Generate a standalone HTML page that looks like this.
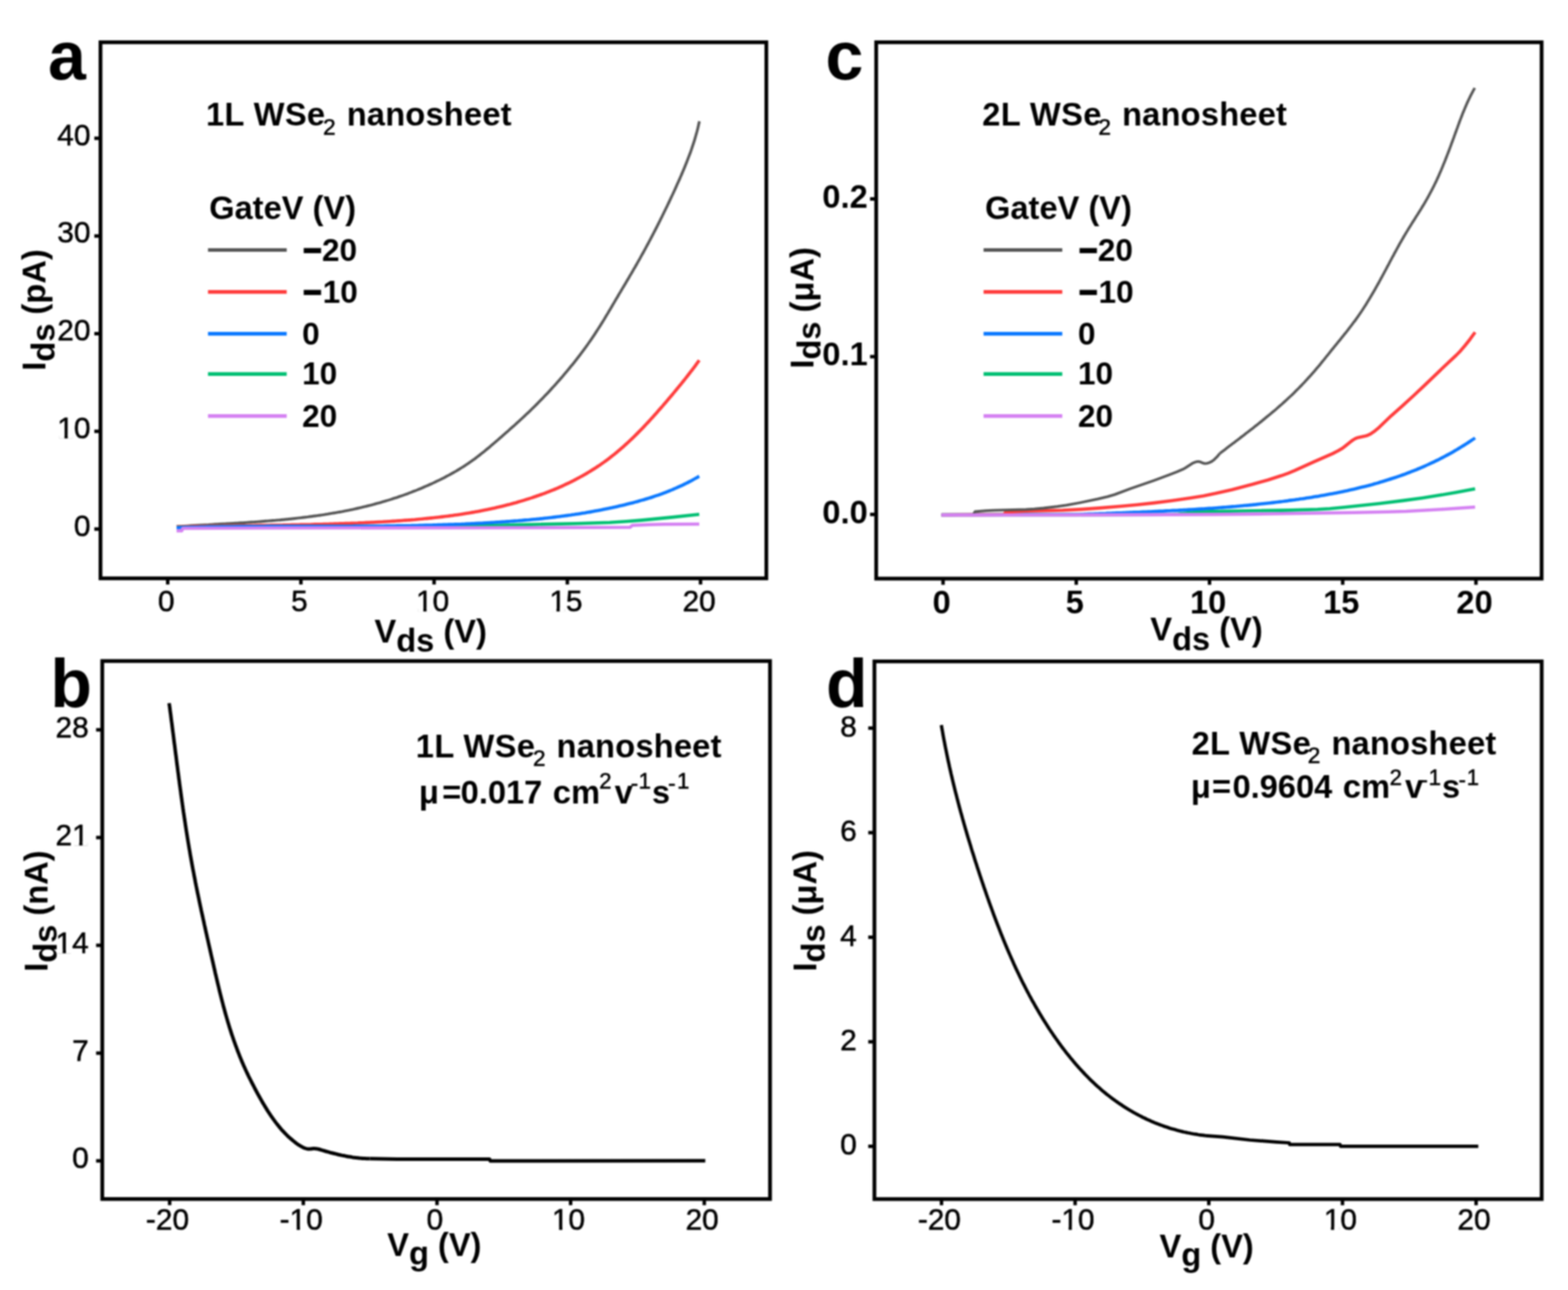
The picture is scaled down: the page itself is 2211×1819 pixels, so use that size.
<!DOCTYPE html>
<html lang="en"><head><meta charset="utf-8"><title>WSe2 nanosheet transistor characteristics</title>
<style>html,body{margin:0;padding:0;background:#fff;overflow:hidden}svg{display:block}#fig{filter:blur(0.8px)}text{font-family:"Liberation Sans", Arial, Helvetica, sans-serif;fill:#000}.b{font-weight:bold}.r{font-weight:normal}.t{stroke:#000;stroke-width:0.7px}</style></head><body>
<div id="fig">
<svg width="2211" height="1819" viewBox="0 0 2211 1819">
<rect x="0" y="0" width="2211" height="1819" fill="#fff"/>
<rect x="141.7" y="59.6" width="938.9" height="755.9" fill="none" stroke="#000" stroke-width="5.3"/>
<line x1="133" y1="746" x2="140" y2="746" stroke="#000" stroke-width="4.9"/>
<line x1="133" y1="608.2" x2="140" y2="608.2" stroke="#000" stroke-width="4.9"/>
<line x1="133" y1="470.5" x2="140" y2="470.5" stroke="#000" stroke-width="4.9"/>
<line x1="133" y1="332.8" x2="140" y2="332.8" stroke="#000" stroke-width="4.9"/>
<line x1="133" y1="195" x2="140" y2="195" stroke="#000" stroke-width="4.9"/>
<line x1="236.5" y1="817.2" x2="236.5" y2="824.2" stroke="#000" stroke-width="4.9"/>
<line x1="424.3" y1="817.2" x2="424.3" y2="824.2" stroke="#000" stroke-width="4.9"/>
<line x1="612.1" y1="817.2" x2="612.1" y2="824.2" stroke="#000" stroke-width="4.9"/>
<line x1="800" y1="817.2" x2="800" y2="824.2" stroke="#000" stroke-width="4.9"/>
<line x1="987.8" y1="817.2" x2="987.8" y2="824.2" stroke="#000" stroke-width="4.9"/>
<text x="127.5" y="755.5" class="r t" font-size="42" text-anchor="end">0</text>
<text x="127.5" y="617.8" class="r t" font-size="42" text-anchor="end">10</text>
<rect x="83.2" y="613.3" width="7.7" height="5.3" fill="#fff"/>
<rect x="95.5" y="613.3" width="7.4" height="5.3" fill="#fff"/>
<text x="127.5" y="480" class="r t" font-size="42" text-anchor="end">20</text>
<text x="127.5" y="342.2" class="r t" font-size="42" text-anchor="end">30</text>
<text x="127.5" y="204.5" class="r t" font-size="42" text-anchor="end">40</text>
<text x="234.5" y="862" class="r t" font-size="42" text-anchor="middle">0</text>
<text x="422.3" y="862" class="r t" font-size="42" text-anchor="middle">5</text>
<text x="610.1" y="862" class="r t" font-size="42" text-anchor="middle">10</text>
<rect x="589.2" y="857.6" width="7.7" height="5.3" fill="#fff"/>
<rect x="601.5" y="857.6" width="7.4" height="5.3" fill="#fff"/>
<text x="798" y="862" class="r t" font-size="42" text-anchor="middle">15</text>
<rect x="777" y="857.6" width="7.7" height="5.3" fill="#fff"/>
<rect x="789.3" y="857.6" width="7.4" height="5.3" fill="#fff"/>
<text x="985.8" y="862" class="r t" font-size="42" text-anchor="middle">20</text>
<text x="67.8" y="112" class="b" font-size="96" text-anchor="start">a</text>
<rect x="144.2" y="932.1" width="941.6" height="758.6" fill="none" stroke="#000" stroke-width="5.3"/>
<line x1="135.5" y1="1636.9" x2="142.5" y2="1636.9" stroke="#000" stroke-width="4.9"/>
<line x1="135.5" y1="1485" x2="142.5" y2="1485" stroke="#000" stroke-width="4.9"/>
<line x1="135.5" y1="1333" x2="142.5" y2="1333" stroke="#000" stroke-width="4.9"/>
<line x1="135.5" y1="1181" x2="142.5" y2="1181" stroke="#000" stroke-width="4.9"/>
<line x1="135.5" y1="1029.1" x2="142.5" y2="1029.1" stroke="#000" stroke-width="4.9"/>
<line x1="239.2" y1="1692.4" x2="239.2" y2="1699.4" stroke="#000" stroke-width="4.9"/>
<line x1="427.7" y1="1692.4" x2="427.7" y2="1699.4" stroke="#000" stroke-width="4.9"/>
<line x1="616.2" y1="1692.4" x2="616.2" y2="1699.4" stroke="#000" stroke-width="4.9"/>
<line x1="804.6" y1="1692.4" x2="804.6" y2="1699.4" stroke="#000" stroke-width="4.9"/>
<line x1="993.1" y1="1692.4" x2="993.1" y2="1699.4" stroke="#000" stroke-width="4.9"/>
<text x="125" y="1647.4" class="r t" font-size="42" text-anchor="end">0</text>
<text x="125" y="1495.5" class="r t" font-size="42" text-anchor="end">7</text>
<text x="125" y="1343.5" class="r t" font-size="42" text-anchor="end">14</text>
<rect x="80.7" y="1339.1" width="7.7" height="5.3" fill="#fff"/>
<rect x="93" y="1339.1" width="7.4" height="5.3" fill="#fff"/>
<text x="125" y="1191.5" class="r t" font-size="42" text-anchor="end">21</text>
<rect x="104" y="1187.1" width="7.7" height="5.3" fill="#fff"/>
<rect x="116.4" y="1187.1" width="7.4" height="5.3" fill="#fff"/>
<text x="125" y="1039.6" class="r t" font-size="42" text-anchor="end">28</text>
<text x="236.2" y="1734.3" class="r t" font-size="42" text-anchor="middle">-20</text>
<text x="424.7" y="1734.3" class="r t" font-size="42" text-anchor="middle">-10</text>
<rect x="410.7" y="1729.9" width="7.7" height="5.3" fill="#fff"/>
<rect x="423" y="1729.9" width="7.4" height="5.3" fill="#fff"/>
<text x="613.2" y="1734.3" class="r t" font-size="42" text-anchor="middle">0</text>
<text x="801.6" y="1734.3" class="r t" font-size="42" text-anchor="middle">10</text>
<rect x="780.7" y="1729.9" width="7.7" height="5.3" fill="#fff"/>
<rect x="793" y="1729.9" width="7.4" height="5.3" fill="#fff"/>
<text x="990.1" y="1734.3" class="r t" font-size="42" text-anchor="middle">20</text>
<text x="71" y="996.5" class="b" font-size="96" text-anchor="start">b</text>
<rect x="1235.5" y="59.6" width="938.3" height="756.3" fill="none" stroke="#000" stroke-width="5.3"/>
<line x1="1226.8" y1="725.4" x2="1233.8" y2="725.4" stroke="#000" stroke-width="4.9"/>
<line x1="1226.8" y1="502.9" x2="1233.8" y2="502.9" stroke="#000" stroke-width="4.9"/>
<line x1="1226.8" y1="280.5" x2="1233.8" y2="280.5" stroke="#000" stroke-width="4.9"/>
<line x1="1329.8" y1="817.6" x2="1329.8" y2="824.6" stroke="#000" stroke-width="4.9"/>
<line x1="1517.6" y1="817.6" x2="1517.6" y2="824.6" stroke="#000" stroke-width="4.9"/>
<line x1="1705.5" y1="817.6" x2="1705.5" y2="824.6" stroke="#000" stroke-width="4.9"/>
<line x1="1893.3" y1="817.6" x2="1893.3" y2="824.6" stroke="#000" stroke-width="4.9"/>
<line x1="2081.2" y1="817.6" x2="2081.2" y2="824.6" stroke="#000" stroke-width="4.9"/>
<text x="1223.5" y="737.9" class="b" font-size="46" text-anchor="end">0.0</text>
<text x="1223.5" y="515.4" class="b" font-size="46" text-anchor="end">0.1</text>
<text x="1223.5" y="293" class="b" font-size="46" text-anchor="end">0.2</text>
<text x="1327.8" y="864.5" class="b" font-size="46" text-anchor="middle">0</text>
<text x="1515.6" y="864.5" class="b" font-size="46" text-anchor="middle">5</text>
<text x="1703.5" y="864.5" class="b" font-size="46" text-anchor="middle">10</text>
<text x="1891.3" y="864.5" class="b" font-size="46" text-anchor="middle">15</text>
<text x="2079.2" y="864.5" class="b" font-size="46" text-anchor="middle">20</text>
<text x="1164" y="111.5" class="b" font-size="96" text-anchor="start">c</text>
<rect x="1233" y="932.6" width="940.9" height="758.2" fill="none" stroke="#000" stroke-width="5.3"/>
<line x1="1224.3" y1="1616.4" x2="1231.3" y2="1616.4" stroke="#000" stroke-width="4.9"/>
<line x1="1224.3" y1="1469" x2="1231.3" y2="1469" stroke="#000" stroke-width="4.9"/>
<line x1="1224.3" y1="1321.6" x2="1231.3" y2="1321.6" stroke="#000" stroke-width="4.9"/>
<line x1="1224.3" y1="1174.1" x2="1231.3" y2="1174.1" stroke="#000" stroke-width="4.9"/>
<line x1="1224.3" y1="1026.7" x2="1231.3" y2="1026.7" stroke="#000" stroke-width="4.9"/>
<line x1="1327.6" y1="1692.5" x2="1327.6" y2="1699.5" stroke="#000" stroke-width="4.9"/>
<line x1="1516" y1="1692.5" x2="1516" y2="1699.5" stroke="#000" stroke-width="4.9"/>
<line x1="1704.5" y1="1692.5" x2="1704.5" y2="1699.5" stroke="#000" stroke-width="4.9"/>
<line x1="1893" y1="1692.5" x2="1893" y2="1699.5" stroke="#000" stroke-width="4.9"/>
<line x1="2081.4" y1="1692.5" x2="2081.4" y2="1699.5" stroke="#000" stroke-width="4.9"/>
<text x="1208.2" y="1628.4" class="r t" font-size="42" text-anchor="end">0</text>
<text x="1208.2" y="1481" class="r t" font-size="42" text-anchor="end">2</text>
<text x="1208.2" y="1333.6" class="r t" font-size="42" text-anchor="end">4</text>
<text x="1208.2" y="1186.1" class="r t" font-size="42" text-anchor="end">6</text>
<text x="1208.2" y="1038.7" class="r t" font-size="42" text-anchor="end">8</text>
<text x="1324.6" y="1734.3" class="r t" font-size="42" text-anchor="middle">-20</text>
<text x="1513" y="1734.3" class="r t" font-size="42" text-anchor="middle">-10</text>
<rect x="1499.1" y="1729.9" width="7.7" height="5.3" fill="#fff"/>
<rect x="1511.4" y="1729.9" width="7.4" height="5.3" fill="#fff"/>
<text x="1701.5" y="1734.3" class="r t" font-size="42" text-anchor="middle">0</text>
<text x="1890" y="1734.3" class="r t" font-size="42" text-anchor="middle">10</text>
<rect x="1869" y="1729.9" width="7.7" height="5.3" fill="#fff"/>
<rect x="1881.3" y="1729.9" width="7.4" height="5.3" fill="#fff"/>
<text x="2078.4" y="1734.3" class="r t" font-size="42" text-anchor="middle">20</text>
<text x="1164.7" y="997" class="b" font-size="96" text-anchor="start">d</text>
<text><tspan x="290.4" y="177.4" class="b" font-size="46" letter-spacing="0.55">1L WSe</tspan><tspan x="455.5" y="190" class="r t" font-size="32">2</tspan><tspan x="488.9" y="177.4" class="b" font-size="46" letter-spacing="0.3">nanosheet</tspan></text>
<text><tspan x="1385" y="177.4" class="b" font-size="46" letter-spacing="0.55">2L WSe</tspan><tspan x="1548.8" y="190" class="r t" font-size="32">2</tspan><tspan x="1582.2" y="177.4" class="b" font-size="46" letter-spacing="0.3">nanosheet</tspan></text>
<text><tspan x="586.3" y="1067.8" class="b" font-size="46" letter-spacing="0.55">1L WSe</tspan><tspan x="751.4" y="1080.4" class="r t" font-size="32">2</tspan><tspan x="784.8" y="1067.8" class="b" font-size="46" letter-spacing="0.3">nanosheet</tspan></text>
<text><tspan x="1680.2" y="1063.6" class="b" font-size="46" letter-spacing="0.55">2L WSe</tspan><tspan x="1844" y="1076.2" class="r t" font-size="32">2</tspan><tspan x="1877.4" y="1063.6" class="b" font-size="46" letter-spacing="0.3">nanosheet</tspan></text>
<text><tspan x="590.8" y="1132.6" class="b" font-size="46">&#956;</tspan><tspan x="623.4" y="1132.6" class="b" font-size="46">=</tspan><tspan x="649.6" y="1132.6" class="b" font-size="46">0.017</tspan><tspan x="779.6" y="1132.6" class="b" font-size="46">cm</tspan><tspan x="845" y="1111.6" class="r t" font-size="31">2</tspan><tspan x="866.8" y="1132.6" class="b" font-size="46">v</tspan><tspan x="889.5" y="1114.6" class="r t" font-size="31">-</tspan><tspan x="900.5" y="1111.6" class="r t" font-size="31">1</tspan><tspan x="919.2" y="1132.6" class="b" font-size="46">s</tspan><tspan x="942.3" y="1114.6" class="r t" font-size="31">-</tspan><tspan x="954.7" y="1111.6" class="r t" font-size="31">1</tspan></text>
<text><tspan x="1679.3" y="1124.8" class="b" font-size="46">&#956;</tspan><tspan x="1708.9" y="1124.8" class="b" font-size="46">=</tspan><tspan x="1737.9" y="1124.8" class="b" font-size="46">0.9604</tspan><tspan x="1893.6" y="1124.8" class="b" font-size="46">cm</tspan><tspan x="1959.5" y="1107.2" class="r t" font-size="31">2</tspan><tspan x="1981.3" y="1124.8" class="b" font-size="46">v</tspan><tspan x="2003" y="1110.2" class="r t" font-size="31">-</tspan><tspan x="2014.4" y="1107.2" class="r t" font-size="31">1</tspan><tspan x="2033.2" y="1124.8" class="b" font-size="46">s</tspan><tspan x="2056.7" y="1110.2" class="r t" font-size="31">-</tspan><tspan x="2068.2" y="1107.2" class="r t" font-size="31">1</tspan></text>
<text x="295" y="308.6" class="b" font-size="46" text-anchor="start">GateV (V)</text>
<line x1="293.3" y1="352.5" x2="404.3" y2="352.5" stroke="#555555" stroke-width="5.2"/>
<text x="426" y="367.5" class="b" font-size="44.5" text-anchor="start"><tspan dx="1.5" stroke="#000" stroke-width="2.2">&#8722;</tspan><tspan dx="0.5">20</tspan></text>
<line x1="293.3" y1="411.6" x2="404.3" y2="411.6" stroke="#ff3b3b" stroke-width="5.2"/>
<text x="426" y="426.6" class="b" font-size="44.5" text-anchor="start"><tspan dx="1.5" stroke="#000" stroke-width="2.2">&#8722;</tspan><tspan dx="1.5">10</tspan></text>
<line x1="293.3" y1="470.7" x2="404.3" y2="470.7" stroke="#0a78ff" stroke-width="5.2"/>
<text x="426" y="485.7" class="b" font-size="44.5" text-anchor="start">0</text>
<line x1="293.3" y1="527.3" x2="404.3" y2="527.3" stroke="#00bf72" stroke-width="5.2"/>
<text x="426" y="542.3" class="b" font-size="44.5" text-anchor="start">10</text>
<line x1="293.3" y1="586.6" x2="404.3" y2="586.6" stroke="#d480f2" stroke-width="5.2"/>
<text x="426" y="601.6" class="b" font-size="44.5" text-anchor="start">20</text>
<text x="1389" y="308.6" class="b" font-size="46" text-anchor="start">GateV (V)</text>
<line x1="1386.9" y1="352.5" x2="1497.9" y2="352.5" stroke="#555555" stroke-width="5.2"/>
<text x="1520" y="367.5" class="b" font-size="44.5" text-anchor="start"><tspan dx="1.5" stroke="#000" stroke-width="2.2">&#8722;</tspan><tspan dx="0.5">20</tspan></text>
<line x1="1386.9" y1="411.6" x2="1497.9" y2="411.6" stroke="#ff3b3b" stroke-width="5.2"/>
<text x="1520" y="426.6" class="b" font-size="44.5" text-anchor="start"><tspan dx="1.5" stroke="#000" stroke-width="2.2">&#8722;</tspan><tspan dx="1.5">10</tspan></text>
<line x1="1386.9" y1="470.7" x2="1497.9" y2="470.7" stroke="#0a78ff" stroke-width="5.2"/>
<text x="1520" y="485.7" class="b" font-size="44.5" text-anchor="start">0</text>
<line x1="1386.9" y1="527.3" x2="1497.9" y2="527.3" stroke="#00bf72" stroke-width="5.2"/>
<text x="1520" y="542.3" class="b" font-size="44.5" text-anchor="start">10</text>
<line x1="1386.9" y1="586.6" x2="1497.9" y2="586.6" stroke="#d480f2" stroke-width="5.2"/>
<text x="1520" y="601.6" class="b" font-size="44.5" text-anchor="start">20</text>
<text transform="translate(64.2,522.7) rotate(-90)" class="b" font-size="46">I<tspan dy="12.5">ds</tspan><tspan dy="-12.5"> (pA)</tspan></text>
<text transform="translate(67,1370.3) rotate(-90)" class="b" font-size="46">I<tspan dy="13">ds</tspan><tspan dy="-13"> (nA)</tspan></text>
<text transform="translate(1147,519.8) rotate(-90)" class="b" font-size="46">I<tspan dy="9.5">ds</tspan><tspan dy="-9.5"> (&#956;A)</tspan></text>
<text transform="translate(1150.7,1370) rotate(-90)" class="b" font-size="46">I<tspan dy="12">ds</tspan><tspan dy="-12"> (&#956;A)</tspan></text>
<text x="528" y="905.5" class="b" font-size="46">V<tspan dy="13.5">ds</tspan><tspan dy="-13.5"> (V)</tspan></text>
<text x="1622" y="903.4" class="b" font-size="46">V<tspan dy="13.5">ds</tspan><tspan dy="-13.5"> (V)</tspan></text>
<text x="546" y="1770.6" class="b" font-size="46">V<tspan dy="12">g</tspan><tspan dy="-12"> (V)</tspan></text>
<text x="1635" y="1772.9" class="b" font-size="46">V<tspan dy="12">g</tspan><tspan dy="-12"> (V)</tspan></text>
<path d="M249,742.5 C249.8,742.4 252.3,742.3 254,742.2 C255.6,742.1 257.3,742 259,741.9 C260.6,741.8 262.3,741.7 264,741.6 C265.6,741.5 267.3,741.4 269,741.3 C270.6,741.2 272.3,741.1 274,741 C275.6,740.9 277.3,740.8 279,740.7 C280.6,740.6 282.3,740.5 284,740.4 C285.6,740.3 287.3,740.2 289,740.1 C290.6,740 292.3,739.9 294,739.9 C295.6,739.8 297.3,739.7 299,739.6 C300.7,739.5 302.3,739.4 304,739.3 C305.7,739.2 307.3,739.1 309,739 C310.7,738.9 312.4,738.8 314,738.7 C315.7,738.6 317.4,738.6 319.1,738.5 C320.7,738.4 322.4,738.3 324.1,738.2 C325.7,738.1 327.4,738 329.1,737.9 C330.8,737.8 332.4,737.7 334.1,737.6 C335.8,737.5 337.5,737.4 339.1,737.3 C340.8,737.2 342.5,737.1 344.1,737 C345.8,736.8 347.5,736.7 349.2,736.6 C350.8,736.5 352.5,736.4 354.2,736.3 C355.9,736.2 357.5,736.1 359.2,736 C360.9,735.8 362.5,735.7 364.2,735.6 C365.9,735.5 367.6,735.4 369.2,735.2 C370.9,735.1 372.6,735 374.3,734.8 C375.9,734.7 377.6,734.6 379.3,734.4 C380.9,734.3 382.6,734.2 384.3,734 C385.9,733.9 387.6,733.8 389.3,733.6 C391,733.5 392.6,733.3 394.3,733.2 C396,733 397.6,732.9 399.3,732.7 C401,732.5 402.6,732.4 404.3,732.2 C406,732 407.6,731.9 409.3,731.7 C411,731.5 412.6,731.4 414.3,731.2 C415.9,731 417.6,730.8 419.3,730.6 C420.9,730.5 422.6,730.3 424.3,730.1 C425.9,729.9 427.6,729.7 429.2,729.5 C430.9,729.3 432.6,729.1 434.2,728.9 C435.9,728.6 437.5,728.4 439.2,728.2 C440.9,728 442.5,727.8 444.2,727.5 C445.8,727.3 447.5,727.1 449.1,726.8 C450.8,726.6 452.4,726.3 454.1,726.1 C455.7,725.9 457.4,725.6 459,725.3 C460.7,725.1 462.3,724.8 464,724.5 C465.6,724.3 467.3,724 468.9,723.7 C470.6,723.4 472.2,723.2 473.9,722.9 C475.5,722.6 477.2,722.3 478.8,722 C480.4,721.7 482.1,721.4 483.7,721.1 C485.4,720.7 487,720.4 488.6,720.1 C490.3,719.8 491.9,719.4 493.5,719.1 C495.2,718.8 496.8,718.4 498.4,718.1 C500.1,717.7 501.7,717.4 503.3,717 C505,716.6 506.6,716.3 508.2,715.9 C509.9,715.5 511.5,715.1 513.1,714.7 C514.7,714.3 516.4,713.9 518,713.5 C519.6,713.1 521.2,712.7 522.8,712.3 C524.5,711.9 526.1,711.5 527.7,711 C529.3,710.6 530.9,710.2 532.5,709.7 C534.1,709.3 535.8,708.8 537.4,708.3 C539,707.9 540.6,707.4 542.2,706.9 C543.8,706.4 545.4,706 547,705.5 C548.6,705 550.2,704.5 551.8,704 C553.4,703.5 555,702.9 556.6,702.4 C558.2,701.9 559.8,701.4 561.4,700.8 C562.9,700.3 564.5,699.7 566.1,699.2 C567.7,698.6 569.3,698.1 570.8,697.5 C572.4,696.9 574,696.3 575.6,695.8 C577.1,695.2 578.7,694.6 580.3,694 C581.8,693.4 583.4,692.8 585,692.2 C586.5,691.5 588.1,690.9 589.6,690.3 C591.2,689.7 592.7,689 594.3,688.4 C595.8,687.7 597.3,687.1 598.9,686.4 C600.4,685.8 601.9,685.1 603.5,684.4 C605,683.7 606.5,683 608,682.4 C609.5,681.7 611,681 612.6,680.3 C614.1,679.5 615.6,678.8 617.1,678.1 C618.6,677.4 620.1,676.7 621.5,675.9 C623,675.2 624.5,674.4 626,673.7 C627.5,672.9 628.9,672.1 630.4,671.3 C631.9,670.6 633.3,669.8 634.8,669 C636.3,668.2 637.7,667.4 639.2,666.5 C640.6,665.7 642,664.9 643.5,664.1 C644.9,663.2 646.3,662.4 647.8,661.5 C649.2,660.6 650.6,659.7 652,658.9 C653.4,658 654.8,657.1 656.2,656.1 C657.6,655.2 659,654.3 660.4,653.4 C661.8,652.4 663.1,651.5 664.5,650.5 C665.9,649.5 667.2,648.5 668.6,647.6 C670,646.6 671.3,645.5 672.6,644.5 C674,643.5 675.3,642.5 676.7,641.4 C678,640.4 679.3,639.4 680.6,638.3 C681.9,637.2 683.3,636.2 684.6,635.1 C685.9,634 687.2,632.9 688.5,631.9 C689.8,630.8 691.1,629.7 692.3,628.6 C693.6,627.5 694.9,626.4 696.2,625.3 C697.5,624.2 698.7,623.1 700,622 C701.3,620.9 702.5,619.8 703.8,618.7 C705.1,617.6 706.3,616.5 707.6,615.4 C708.8,614.3 710.1,613.2 711.3,612.1 C712.5,611 713.8,610 715,608.9 C716.3,607.8 717.5,606.7 718.7,605.6 C720,604.5 721.2,603.4 722.4,602.3 C723.6,601.2 724.9,600.2 726.1,599.1 C727.3,598 728.5,596.9 729.7,595.8 C731,594.7 732.2,593.6 733.4,592.4 C734.6,591.3 735.8,590.2 737,589.1 C738.2,588 739.4,586.8 740.6,585.7 C741.9,584.6 743.1,583.4 744.3,582.3 C745.5,581.1 746.7,580 747.9,578.8 C749.1,577.7 750.2,576.5 751.4,575.3 C752.6,574.2 753.8,573 755,571.8 C756.2,570.6 757.4,569.4 758.6,568.3 C759.7,567.1 760.9,565.9 762.1,564.7 C763.3,563.5 764.4,562.3 765.6,561.1 C766.8,559.9 767.9,558.6 769.1,557.4 C770.3,556.2 771.4,555 772.6,553.8 C773.7,552.5 774.9,551.3 776,550.1 C777.2,548.8 778.3,547.6 779.4,546.3 C780.6,545.1 781.7,543.8 782.9,542.6 C784,541.3 785.1,540.1 786.2,538.8 C787.4,537.5 788.5,536.3 789.6,535 C790.7,533.7 791.8,532.5 792.9,531.2 C794,529.9 795.1,528.6 796.2,527.3 C797.3,526 798.4,524.7 799.5,523.4 C800.5,522.1 801.6,520.8 802.7,519.5 C803.8,518.2 804.8,516.9 805.9,515.6 C807,514.3 808,513 809.1,511.7 C810.1,510.4 811.2,509 812.2,507.7 C813.2,506.4 814.3,505 815.3,503.7 C816.3,502.4 817.4,501 818.4,499.7 C819.4,498.4 820.4,497 821.4,495.7 C822.4,494.3 823.4,493 824.4,491.6 C825.4,490.3 826.4,488.9 827.3,487.6 C828.3,486.2 829.3,484.8 830.2,483.5 C831.2,482.1 832.2,480.7 833.1,479.4 C834,478 835,476.6 835.9,475.2 C836.9,473.9 837.8,472.5 838.7,471.1 C839.6,469.7 840.5,468.3 841.4,466.9 C842.3,465.6 843.2,464.2 844.1,462.8 C845,461.4 845.9,460 846.8,458.6 C847.6,457.2 848.5,455.8 849.4,454.4 C850.3,453 851.1,451.6 852,450.2 C852.8,448.8 853.7,447.4 854.5,445.9 C855.4,444.5 856.2,443.1 857.1,441.7 C857.9,440.3 858.8,438.9 859.6,437.4 C860.5,436 861.3,434.6 862.1,433.2 C863,431.8 863.8,430.3 864.6,428.9 C865.5,427.5 866.3,426.1 867.2,424.6 C868,423.2 868.8,421.8 869.7,420.3 C870.5,418.9 871.4,417.5 872.2,416 C873.1,414.6 873.9,413.1 874.8,411.7 C875.6,410.3 876.5,408.8 877.3,407.4 C878.2,405.9 879,404.5 879.9,403.1 C880.8,401.6 881.6,400.2 882.5,398.7 C883.3,397.3 884.2,395.8 885.1,394.4 C885.9,392.9 886.8,391.5 887.6,390 C888.5,388.6 889.3,387.1 890.2,385.7 C891,384.2 891.9,382.8 892.7,381.3 C893.6,379.8 894.4,378.4 895.3,376.9 C896.1,375.5 896.9,374 897.8,372.6 C898.6,371.1 899.4,369.7 900.2,368.2 C901.1,366.7 901.9,365.3 902.7,363.8 C903.5,362.3 904.3,360.9 905.1,359.4 C906,358 906.8,356.5 907.6,355 C908.4,353.6 909.2,352.1 910,350.6 C910.8,349.2 911.6,347.7 912.4,346.2 C913.2,344.7 913.9,343.3 914.7,341.8 C915.5,340.3 916.3,338.9 917.1,337.4 C917.9,335.9 918.6,334.4 919.4,333 C920.2,331.5 921,330 921.7,328.5 C922.5,327 923.3,325.6 924,324.1 C924.8,322.6 925.6,321.1 926.3,319.6 C927.1,318.1 927.8,316.6 928.6,315.2 C929.3,313.7 930.1,312.2 930.8,310.7 C931.6,309.2 932.3,307.7 933.1,306.2 C933.8,304.7 934.5,303.2 935.3,301.7 C936,300.2 936.7,298.7 937.5,297.2 C938.2,295.7 938.9,294.2 939.7,292.7 C940.4,291.2 941.1,289.7 941.8,288.2 C942.6,286.7 943.3,285.2 944,283.6 C944.7,282.1 945.4,280.6 946.1,279.1 C946.8,277.6 947.5,276.1 948.3,274.5 C949,273 949.7,271.5 950.4,270 C951.1,268.5 951.8,266.9 952.5,265.4 C953.2,263.9 953.9,262.3 954.5,260.8 C955.2,259.3 955.9,257.7 956.6,256.2 C957.3,254.7 958,253.1 958.7,251.6 C959.3,250.1 960,248.5 960.7,247 C961.3,245.4 962,243.9 962.7,242.3 C963.3,240.8 964,239.2 964.6,237.7 C965.3,236.1 965.9,234.6 966.5,233 C967.2,231.5 967.8,229.9 968.4,228.3 C969,226.8 969.6,225.2 970.2,223.6 C970.8,222.1 971.4,220.5 972,218.9 C972.6,217.4 973.2,215.8 973.8,214.2 C974.3,212.6 974.9,211.1 975.4,209.5 C976,207.9 976.5,206.3 977,204.7 C977.6,203.1 978.1,201.5 978.6,199.9 C979.1,198.4 979.6,196.8 980,195.2 C980.5,193.6 981,192 981.4,190.4 C981.9,188.8 982.3,187.2 982.8,185.5 C983.2,183.9 983.6,182.3 984,180.7 C984.4,179.1 984.8,177.5 985.1,175.9 C985.5,174.2 986,171.8 986.2,171" fill="none" stroke="#555555" stroke-width="3.9" stroke-linejoin="round" stroke-linecap="butt"/>
<path d="M249,743 C249.8,743 252.3,742.9 253.9,742.9 C255.6,742.8 257.2,742.8 258.8,742.8 C260.5,742.7 262.1,742.7 263.8,742.6 C265.4,742.6 267.1,742.6 268.7,742.5 C270.4,742.5 272,742.5 273.7,742.4 C275.3,742.4 277,742.3 278.6,742.3 C280.3,742.3 281.9,742.2 283.6,742.2 C285.2,742.2 286.9,742.2 288.5,742.1 C290.2,742.1 291.8,742.1 293.5,742 C295.1,742 296.8,742 298.4,741.9 C300.1,741.9 301.8,741.9 303.4,741.9 C305.1,741.8 306.7,741.8 308.4,741.8 C310.1,741.7 311.7,741.7 313.4,741.7 C315,741.7 316.7,741.6 318.4,741.6 C320,741.6 321.7,741.6 323.4,741.5 C325,741.5 326.7,741.5 328.3,741.5 C330,741.4 331.7,741.4 333.3,741.4 C335,741.4 336.7,741.3 338.3,741.3 C340,741.3 341.7,741.3 343.4,741.2 C345,741.2 346.7,741.2 348.4,741.2 C350,741.1 351.7,741.1 353.4,741.1 C355,741.1 356.7,741 358.4,741 C360.1,741 361.7,741 363.4,740.9 C365.1,740.9 366.7,740.9 368.4,740.9 C370.1,740.8 371.8,740.8 373.4,740.8 C375.1,740.8 376.8,740.7 378.5,740.7 C380.1,740.7 381.8,740.7 383.5,740.6 C385.2,740.6 386.8,740.6 388.5,740.5 C390.2,740.5 391.9,740.5 393.5,740.5 C395.2,740.4 396.9,740.4 398.6,740.4 C400.3,740.3 401.9,740.3 403.6,740.3 C405.3,740.3 407,740.2 408.6,740.2 C410.3,740.2 412,740.1 413.7,740.1 C415.4,740.1 417,740 418.7,740 C420.4,740 422.1,739.9 423.8,739.9 C425.4,739.9 427.1,739.8 428.8,739.8 C430.5,739.8 432.2,739.7 433.8,739.7 C435.5,739.6 437.2,739.6 438.9,739.6 C440.6,739.5 442.2,739.5 443.9,739.4 C445.6,739.4 447.3,739.4 449,739.3 C450.6,739.3 452.3,739.2 454,739.2 C455.7,739.1 457.4,739.1 459,739 C460.7,739 462.4,738.9 464.1,738.9 C465.8,738.8 467.4,738.8 469.1,738.7 C470.8,738.7 472.5,738.6 474.2,738.6 C475.8,738.5 477.5,738.5 479.2,738.4 C480.9,738.4 482.6,738.3 484.2,738.2 C485.9,738.2 487.6,738.1 489.3,738.1 C491,738 492.6,737.9 494.3,737.9 C496,737.8 497.7,737.7 499.3,737.7 C501,737.6 502.7,737.5 504.4,737.5 C506.1,737.4 507.7,737.3 509.4,737.2 C511.1,737.2 512.8,737.1 514.4,737 C516.1,736.9 517.8,736.9 519.5,736.8 C521.1,736.7 522.8,736.6 524.5,736.5 C526.2,736.5 527.8,736.4 529.5,736.3 C531.2,736.2 532.9,736.1 534.5,736 C536.2,735.9 537.9,735.8 539.6,735.8 C541.2,735.7 542.9,735.6 544.6,735.5 C546.2,735.4 547.9,735.3 549.6,735.2 C551.3,735.1 552.9,735 554.6,734.9 C556.3,734.8 557.9,734.6 559.6,734.5 C561.3,734.4 562.9,734.3 564.6,734.2 C566.3,734.1 567.9,734 569.6,733.8 C571.3,733.7 572.9,733.6 574.6,733.5 C576.3,733.3 577.9,733.2 579.6,733.1 C581.3,732.9 582.9,732.8 584.6,732.7 C586.3,732.5 587.9,732.4 589.6,732.2 C591.2,732.1 592.9,731.9 594.6,731.8 C596.2,731.6 597.9,731.5 599.5,731.3 C601.2,731.2 602.8,731 604.5,730.8 C606.2,730.7 607.8,730.5 609.5,730.3 C611.1,730.1 612.8,730 614.4,729.8 C616.1,729.6 617.7,729.4 619.4,729.2 C621,729 622.7,728.8 624.3,728.6 C626,728.4 627.6,728.2 629.3,728 C630.9,727.8 632.6,727.6 634.2,727.4 C635.9,727.2 637.5,726.9 639.2,726.7 C640.8,726.5 642.5,726.2 644.1,726 C645.7,725.8 647.4,725.5 649,725.3 C650.7,725 652.3,724.8 653.9,724.5 C655.6,724.3 657.2,724 658.9,723.7 C660.5,723.5 662.1,723.2 663.8,722.9 C665.4,722.6 667,722.3 668.7,722.1 C670.3,721.8 671.9,721.5 673.6,721.2 C675.2,720.9 676.8,720.6 678.4,720.2 C680.1,719.9 681.7,719.6 683.3,719.3 C685,719 686.6,718.6 688.2,718.3 C689.8,717.9 691.4,717.6 693.1,717.2 C694.7,716.9 696.3,716.5 697.9,716.2 C699.5,715.8 701.2,715.4 702.8,715.1 C704.4,714.7 706,714.3 707.6,713.9 C709.2,713.5 710.8,713.1 712.5,712.7 C714.1,712.3 715.7,711.9 717.3,711.5 C718.9,711.1 720.5,710.6 722.1,710.2 C723.7,709.8 725.3,709.3 726.9,708.9 C728.5,708.4 730.1,708 731.7,707.5 C733.3,707.1 734.9,706.6 736.5,706.1 C738.1,705.6 739.7,705.1 741.3,704.6 C742.9,704.2 744.5,703.7 746.1,703.1 C747.6,702.6 749.2,702.1 750.8,701.6 C752.4,701.1 754,700.5 755.6,700 C757.1,699.4 758.7,698.9 760.3,698.3 C761.9,697.8 763.4,697.2 765,696.6 C766.6,696.1 768.1,695.5 769.7,694.9 C771.2,694.3 772.8,693.7 774.4,693.1 C775.9,692.5 777.5,691.8 779,691.2 C780.5,690.6 782.1,690 783.6,689.3 C785.2,688.7 786.7,688 788.2,687.3 C789.7,686.7 791.3,686 792.8,685.3 C794.3,684.6 795.8,683.9 797.3,683.2 C798.8,682.5 800.3,681.8 801.8,681.1 C803.3,680.4 804.8,679.6 806.3,678.9 C807.8,678.2 809.2,677.4 810.7,676.6 C812.2,675.9 813.7,675.1 815.1,674.3 C816.6,673.5 818,672.8 819.5,671.9 C820.9,671.1 822.4,670.3 823.8,669.5 C825.3,668.7 826.7,667.9 828.1,667 C829.5,666.2 831,665.3 832.4,664.4 C833.8,663.6 835.2,662.7 836.6,661.8 C838,660.9 839.4,660 840.8,659.1 C842.2,658.2 843.5,657.3 844.9,656.4 C846.3,655.4 847.7,654.5 849,653.5 C850.4,652.6 851.7,651.6 853.1,650.6 C854.4,649.7 855.8,648.7 857.1,647.7 C858.4,646.7 859.8,645.7 861.1,644.6 C862.4,643.6 863.7,642.6 865,641.5 C866.3,640.5 867.6,639.4 868.9,638.4 C870.2,637.3 871.5,636.2 872.8,635.1 C874.1,634 875.3,632.9 876.6,631.8 C877.9,630.7 879.1,629.6 880.4,628.5 C881.7,627.4 882.9,626.2 884.2,625.1 C885.4,624 886.6,622.8 887.9,621.6 C889.1,620.5 890.3,619.3 891.5,618.2 C892.8,617 894,615.8 895.2,614.6 C896.4,613.4 897.6,612.2 898.8,611 C900,609.8 901.2,608.6 902.4,607.4 C903.6,606.2 904.7,605 905.9,603.8 C907.1,602.6 908.3,601.3 909.4,600.1 C910.6,598.9 911.7,597.6 912.9,596.4 C914.1,595.2 915.2,593.9 916.3,592.7 C917.5,591.4 918.6,590.2 919.8,588.9 C920.9,587.7 922,586.4 923.2,585.2 C924.3,583.9 925.4,582.7 926.5,581.4 C927.6,580.1 928.7,578.9 929.8,577.6 C931,576.3 932.1,575.1 933.2,573.8 C934.3,572.6 935.3,571.3 936.4,570 C937.5,568.8 938.6,567.5 939.7,566.2 C940.8,565 941.9,563.7 942.9,562.4 C944,561.2 945.1,559.9 946.1,558.6 C947.2,557.4 948.3,556.1 949.3,554.8 C950.4,553.6 951.4,552.3 952.5,551 C953.5,549.8 954.6,548.5 955.6,547.2 C956.7,546 957.7,544.7 958.7,543.4 C959.8,542.1 960.8,540.9 961.8,539.6 C962.9,538.3 963.9,537 964.9,535.8 C965.9,534.5 967,533.2 968,531.9 C969,530.6 970,529.3 971,528 C972,526.7 973,525.4 974,524.1 C975.1,522.8 976.1,521.4 977.1,520.1 C978.1,518.8 979.1,517.5 980.1,516.1 C981.1,514.8 982,513.4 983,512.1 C984,510.7 985.5,508.7 986,508" fill="none" stroke="#ff3b3b" stroke-width="4.6" stroke-linejoin="round" stroke-linecap="butt"/>
<path d="M249,744 L280.8,743.3 L308.8,743 L617.2,742.9 L650.2,742.3 L729,740.1 L812,738.2 L859.8,736.7 L883,735.3 L904,733.6 L947.5,729.4 L986,725.3" fill="none" stroke="#00bf72" stroke-width="4.6" stroke-linejoin="round" stroke-linecap="butt"/>
<path d="M249,744 C249.8,744 252.3,743.9 253.9,743.9 C255.6,743.8 257.2,743.8 258.9,743.7 C260.5,743.7 262.2,743.6 263.8,743.6 C265.5,743.5 267.1,743.5 268.8,743.5 C270.4,743.4 272.1,743.4 273.7,743.3 C275.4,743.3 277,743.3 278.7,743.2 C280.3,743.2 282,743.2 283.6,743.1 C285.3,743.1 286.9,743.1 288.6,743 C290.2,743 291.9,743 293.5,742.9 C295.2,742.9 296.9,742.9 298.5,742.8 C300.2,742.8 301.8,742.8 303.5,742.8 C305.1,742.7 306.8,742.7 308.5,742.7 C310.1,742.7 311.8,742.7 313.4,742.6 C315.1,742.6 316.7,742.6 318.4,742.6 C320.1,742.5 321.7,742.5 323.4,742.5 C325.1,742.5 326.7,742.5 328.4,742.5 C330,742.4 331.7,742.4 333.4,742.4 C335,742.4 336.7,742.4 338.4,742.4 C340,742.3 341.7,742.3 343.4,742.3 C345,742.3 346.7,742.3 348.4,742.3 C350,742.3 351.7,742.3 353.4,742.3 C355,742.2 356.7,742.2 358.4,742.2 C360,742.2 361.7,742.2 363.4,742.2 C365,742.2 366.7,742.2 368.4,742.2 C370,742.2 371.7,742.2 373.4,742.2 C375,742.2 376.7,742.1 378.4,742.1 C380.1,742.1 381.7,742.1 383.4,742.1 C385.1,742.1 386.7,742.1 388.4,742.1 C390.1,742.1 391.8,742.1 393.4,742.1 C395.1,742.1 396.8,742.1 398.5,742.1 C400.1,742.1 401.8,742.1 403.5,742.1 C405.2,742.1 406.8,742.1 408.5,742.1 C410.2,742.1 411.9,742.1 413.5,742.1 C415.2,742.1 416.9,742.1 418.6,742.1 C420.2,742.1 421.9,742.1 423.6,742.1 C425.3,742.1 426.9,742.1 428.6,742.1 C430.3,742.1 432,742.1 433.6,742.1 C435.3,742.1 437,742.1 438.7,742.1 C440.4,742.1 442,742.1 443.7,742.1 C445.4,742.1 447.1,742.1 448.8,742.1 C450.4,742.1 452.1,742.1 453.8,742 C455.5,742 457.1,742 458.8,742 C460.5,742 462.2,742 463.9,742 C465.5,742 467.2,742 468.9,742 C470.6,742 472.3,742 474,742 C475.6,742 477.3,742 479,742 C480.7,742 482.4,742 484,742 C485.7,742 487.4,742 489.1,742 C490.8,742 492.4,742 494.1,742 C495.8,742 497.5,741.9 499.2,741.9 C500.9,741.9 502.5,741.9 504.2,741.9 C505.9,741.9 507.6,741.9 509.3,741.9 C510.9,741.9 512.6,741.9 514.3,741.9 C516,741.8 517.7,741.8 519.4,741.8 C521,741.8 522.7,741.8 524.4,741.8 C526.1,741.8 527.8,741.8 529.4,741.7 C531.1,741.7 532.8,741.7 534.5,741.7 C536.2,741.7 537.9,741.7 539.5,741.7 C541.2,741.6 542.9,741.6 544.6,741.6 C546.3,741.6 548,741.6 549.6,741.5 C551.3,741.5 553,741.5 554.7,741.5 C556.4,741.5 558,741.4 559.7,741.4 C561.4,741.4 563.1,741.4 564.8,741.3 C566.5,741.3 568.1,741.3 569.8,741.2 C571.5,741.2 573.2,741.2 574.9,741.2 C576.5,741.1 578.2,741.1 579.9,741.1 C581.6,741 583.3,741 585,741 C586.6,740.9 588.3,740.9 590,740.9 C591.7,740.8 593.4,740.8 595,740.7 C596.7,740.7 598.4,740.7 600.1,740.6 C601.8,740.6 603.4,740.5 605.1,740.5 C606.8,740.5 608.5,740.4 610.2,740.4 C611.8,740.3 613.5,740.3 615.2,740.2 C616.9,740.2 618.6,740.1 620.2,740.1 C621.9,740 623.6,740 625.3,739.9 C626.9,739.9 628.6,739.8 630.3,739.7 C632,739.7 633.7,739.6 635.3,739.6 C637,739.5 638.7,739.4 640.4,739.4 C642,739.3 643.7,739.2 645.4,739.2 C647.1,739.1 648.8,739 650.4,739 C652.1,738.9 653.8,738.8 655.5,738.8 C657.1,738.7 658.8,738.6 660.5,738.5 C662.2,738.5 663.8,738.4 665.5,738.3 C667.2,738.2 668.9,738.2 670.5,738.1 C672.2,738 673.9,737.9 675.5,737.8 C677.2,737.7 678.9,737.6 680.6,737.6 C682.2,737.5 683.9,737.4 685.6,737.3 C687.2,737.2 688.9,737.1 690.6,737 C692.3,736.9 693.9,736.8 695.6,736.7 C697.3,736.6 698.9,736.5 700.6,736.4 C702.3,736.3 703.9,736.2 705.6,736.1 C707.3,736 709,735.8 710.6,735.7 C712.3,735.6 714,735.5 715.6,735.4 C717.3,735.3 719,735.1 720.6,735 C722.3,734.9 723.9,734.8 725.6,734.6 C727.3,734.5 728.9,734.4 730.6,734.3 C732.3,734.1 733.9,734 735.6,733.9 C737.3,733.7 738.9,733.6 740.6,733.4 C742.2,733.3 743.9,733.1 745.6,733 C747.2,732.8 748.9,732.7 750.5,732.5 C752.2,732.4 753.8,732.2 755.5,732.1 C757.2,731.9 758.8,731.7 760.5,731.6 C762.1,731.4 763.8,731.2 765.4,731.1 C767.1,730.9 768.7,730.7 770.4,730.5 C772,730.3 773.7,730.2 775.4,730 C777,729.8 778.7,729.6 780.3,729.4 C781.9,729.2 783.6,729 785.2,728.8 C786.9,728.6 788.5,728.4 790.2,728.2 C791.8,728 793.5,727.7 795.1,727.5 C796.8,727.3 798.4,727.1 800,726.9 C801.7,726.6 803.3,726.4 805,726.2 C806.6,725.9 808.2,725.7 809.9,725.5 C811.5,725.2 813.2,725 814.8,724.7 C816.4,724.5 818.1,724.2 819.7,723.9 C821.3,723.7 823,723.4 824.6,723.2 C826.2,722.9 827.9,722.6 829.5,722.3 C831.1,722.1 832.7,721.8 834.4,721.5 C836,721.2 837.6,720.9 839.2,720.6 C840.9,720.3 842.5,720 844.1,719.7 C845.7,719.4 847.3,719.1 849,718.8 C850.6,718.4 852.2,718.1 853.8,717.8 C855.4,717.5 857.1,717.1 858.7,716.8 C860.3,716.5 861.9,716.1 863.5,715.8 C865.1,715.4 866.7,715.1 868.3,714.7 C869.9,714.3 871.6,714 873.2,713.6 C874.8,713.2 876.4,712.9 878,712.5 C879.6,712.1 881.2,711.7 882.8,711.3 C884.4,710.9 886,710.5 887.6,710.1 C889.2,709.7 890.8,709.3 892.4,708.9 C894,708.5 895.6,708.1 897.1,707.6 C898.7,707.2 900.3,706.7 901.9,706.3 C903.5,705.9 905.1,705.4 906.7,704.9 C908.3,704.5 909.8,704 911.4,703.5 C913,703 914.6,702.6 916.2,702.1 C917.7,701.6 919.3,701 920.9,700.5 C922.5,700 924,699.5 925.6,698.9 C927.2,698.4 928.8,697.9 930.3,697.3 C931.9,696.7 933.5,696.2 935,695.6 C936.6,695 938.2,694.4 939.7,693.8 C941.3,693.2 942.8,692.6 944.4,692 C946,691.3 947.5,690.7 949.1,690 C950.6,689.4 952.2,688.7 953.7,688 C955.3,687.3 956.8,686.6 958.4,685.9 C959.9,685.2 961.5,684.5 963,683.8 C964.5,683 966.1,682.3 967.6,681.5 C969.2,680.7 970.7,679.9 972.2,679.1 C973.8,678.3 975.3,677.5 976.8,676.7 C978.4,675.9 979.9,675 981.4,674.1 C983,673.3 985.2,671.9 986,671.5" fill="none" stroke="#0a78ff" stroke-width="4.6" stroke-linejoin="round" stroke-linecap="butt"/>
<path d="M249,748.5 L256,748.5 L256.5,748 L257.5,745.5 L258,745 L370,744.5 L775,744 L888,743.5 L889,743.1 L891,741.3 L891.8,740.8 L898.8,740.5 L917,739.8 L936.8,739.3 L986,739" fill="none" stroke="#d480f2" stroke-width="4.6" stroke-linejoin="round" stroke-linecap="butt"/>
<path d="M1327.6,726 L1509.3,725.9 L1650.8,725.6 L1661.1,724.9 L1683.8,722.2 L1694.3,721.6 L1733.3,720.7 L1820.8,719.4 L1857.8,718.3 L1875.1,717.2 L1895.8,715.3 L1945.3,710 L1978.3,705.9 L2005.3,702.2 L2028.3,698.6 L2053.6,694.2 L2080,689.2" fill="none" stroke="#00bf72" stroke-width="4.6" stroke-linejoin="round" stroke-linecap="butt"/>
<path d="M1327.6,726 L1520,725.5" fill="none" stroke="#0a78ff" stroke-width="4.6" stroke-linejoin="round" stroke-linecap="butt"/>
<path d="M1520,725.5 C1520.8,725.5 1523.2,725.4 1524.9,725.3 C1526.5,725.2 1528.1,725.2 1529.7,725.1 C1531.4,725 1533,725 1534.6,724.9 C1536.3,724.9 1537.9,724.8 1539.5,724.7 C1541.2,724.7 1542.8,724.6 1544.4,724.5 C1546.1,724.5 1547.7,724.4 1549.4,724.4 C1551,724.3 1552.6,724.2 1554.3,724.2 C1555.9,724.1 1557.6,724 1559.2,724 C1560.9,723.9 1562.5,723.9 1564.2,723.8 C1565.8,723.7 1567.5,723.7 1569.1,723.6 C1570.8,723.5 1572.4,723.5 1574.1,723.4 C1575.7,723.3 1577.4,723.3 1579.1,723.2 C1580.7,723.2 1582.4,723.1 1584,723 C1585.7,723 1587.4,722.9 1589,722.8 C1590.7,722.8 1592.3,722.7 1594,722.6 C1595.7,722.6 1597.3,722.5 1599,722.4 C1600.7,722.4 1602.3,722.3 1604,722.2 C1605.7,722.2 1607.3,722.1 1609,722 C1610.7,721.9 1612.4,721.9 1614,721.8 C1615.7,721.7 1617.4,721.7 1619.1,721.6 C1620.7,721.5 1622.4,721.4 1624.1,721.4 C1625.8,721.3 1627.4,721.2 1629.1,721.1 C1630.8,721.1 1632.5,721 1634.1,720.9 C1635.8,720.8 1637.5,720.7 1639.2,720.7 C1640.9,720.6 1642.6,720.5 1644.2,720.4 C1645.9,720.3 1647.6,720.3 1649.3,720.2 C1651,720.1 1652.6,720 1654.3,719.9 C1656,719.8 1657.7,719.7 1659.4,719.7 C1661.1,719.6 1662.8,719.5 1664.4,719.4 C1666.1,719.3 1667.8,719.2 1669.5,719.1 C1671.2,719 1672.9,718.9 1674.6,718.8 C1676.3,718.7 1677.9,718.6 1679.6,718.5 C1681.3,718.4 1683,718.3 1684.7,718.2 C1686.4,718.1 1688.1,718 1689.8,717.9 C1691.5,717.8 1693.2,717.7 1694.8,717.6 C1696.5,717.5 1698.2,717.4 1699.9,717.2 C1701.6,717.1 1703.3,717 1705,716.9 C1706.7,716.8 1708.4,716.7 1710.1,716.6 C1711.7,716.4 1713.4,716.3 1715.1,716.2 C1716.8,716.1 1718.5,715.9 1720.2,715.8 C1721.9,715.7 1723.6,715.6 1725.3,715.4 C1727,715.3 1728.7,715.2 1730.3,715 C1732,714.9 1733.7,714.8 1735.4,714.6 C1737.1,714.5 1738.8,714.3 1740.5,714.2 C1742.2,714 1743.9,713.9 1745.6,713.7 C1747.2,713.6 1748.9,713.5 1750.6,713.3 C1752.3,713.1 1754,713 1755.7,712.8 C1757.4,712.7 1759.1,712.5 1760.7,712.4 C1762.4,712.2 1764.1,712 1765.8,711.9 C1767.5,711.7 1769.2,711.5 1770.9,711.4 C1772.5,711.2 1774.2,711 1775.9,710.8 C1777.6,710.7 1779.3,710.5 1781,710.3 C1782.6,710.1 1784.3,709.9 1786,709.7 C1787.7,709.6 1789.4,709.4 1791,709.2 C1792.7,709 1794.4,708.8 1796.1,708.6 C1797.8,708.4 1799.4,708.2 1801.1,708 C1802.8,707.8 1804.5,707.6 1806.1,707.4 C1807.8,707.1 1809.5,706.9 1811.2,706.7 C1812.8,706.5 1814.5,706.3 1816.2,706.1 C1817.9,705.8 1819.5,705.6 1821.2,705.4 C1822.9,705.2 1824.5,704.9 1826.2,704.7 C1827.9,704.5 1829.5,704.2 1831.2,704 C1832.9,703.7 1834.5,703.5 1836.2,703.3 C1837.9,703 1839.5,702.8 1841.2,702.5 C1842.9,702.2 1844.5,702 1846.2,701.7 C1847.8,701.5 1849.5,701.2 1851.1,700.9 C1852.8,700.7 1854.5,700.4 1856.1,700.1 C1857.8,699.9 1859.4,699.6 1861.1,699.3 C1862.7,699 1864.4,698.7 1866,698.4 C1867.7,698.1 1869.3,697.8 1871,697.5 C1872.6,697.2 1874.2,696.9 1875.9,696.6 C1877.5,696.3 1879.2,696 1880.8,695.7 C1882.4,695.4 1884.1,695.1 1885.7,694.7 C1887.4,694.4 1889,694.1 1890.6,693.7 C1892.3,693.4 1893.9,693.1 1895.5,692.7 C1897.1,692.4 1898.8,692 1900.4,691.7 C1902,691.3 1903.7,690.9 1905.3,690.6 C1906.9,690.2 1908.5,689.8 1910.1,689.5 C1911.8,689.1 1913.4,688.7 1915,688.3 C1916.6,687.9 1918.2,687.5 1919.8,687.1 C1921.4,686.7 1923.1,686.3 1924.7,685.9 C1926.3,685.5 1927.9,685.1 1929.5,684.7 C1931.1,684.2 1932.7,683.8 1934.3,683.4 C1935.9,682.9 1937.5,682.5 1939.1,682 C1940.7,681.6 1942.3,681.1 1943.9,680.7 C1945.4,680.2 1947,679.7 1948.6,679.3 C1950.2,678.8 1951.8,678.3 1953.4,677.8 C1955,677.3 1956.5,676.8 1958.1,676.3 C1959.7,675.8 1961.3,675.3 1962.8,674.8 C1964.4,674.3 1966,673.8 1967.6,673.3 C1969.1,672.7 1970.7,672.2 1972.3,671.6 C1973.8,671.1 1975.4,670.5 1976.9,670 C1978.5,669.4 1980.1,668.9 1981.6,668.3 C1983.2,667.7 1984.7,667.1 1986.3,666.5 C1987.8,665.9 1989.4,665.3 1990.9,664.7 C1992.4,664.1 1994,663.5 1995.5,662.9 C1997.1,662.3 1998.6,661.6 2000.1,661 C2001.7,660.4 2003.2,659.7 2004.7,659.1 C2006.2,658.4 2007.8,657.7 2009.3,657.1 C2010.8,656.4 2012.3,655.7 2013.9,655 C2015.4,654.3 2016.9,653.6 2018.4,652.9 C2019.9,652.2 2021.4,651.5 2022.9,650.8 C2024.4,650 2025.9,649.3 2027.4,648.6 C2028.9,647.8 2030.4,647.1 2031.9,646.3 C2033.4,645.5 2034.9,644.8 2036.4,644 C2037.9,643.2 2039.3,642.4 2040.8,641.6 C2042.3,640.8 2043.8,640 2045.3,639.2 C2046.7,638.3 2048.2,637.5 2049.7,636.7 C2051.1,635.8 2052.6,635 2054.1,634.1 C2055.5,633.3 2057,632.4 2058.4,631.5 C2059.9,630.6 2061.3,629.7 2062.8,628.8 C2064.2,627.9 2065.7,627 2067.1,626.1 C2068.6,625.2 2070,624.2 2071.4,623.3 C2072.9,622.4 2074.3,621.4 2075.7,620.4 C2077.2,619.5 2079.3,618 2080,617.5" fill="none" stroke="#0a78ff" stroke-width="4.6" stroke-linejoin="round" stroke-linecap="butt"/>
<path d="M1327.6,726 L1378.1,725.9 L1415.1,725.6 L1415.8,725.2 L1417.6,723.1 L1418.3,722.5 L1426.6,721.7 L1446.8,720.6 L1498.3,719.5 L1525.6,718.1 L1550.3,716.4 L1581.8,713.8 L1603.6,711.7 L1627.6,709.1 L1652.3,706 L1678.3,702.3 L1697.1,699.2 L1713.8,695.8 L1737.3,690.4 L1766.6,682.8 L1788.1,676.7 L1806.6,670.8 L1816.3,667.3 L1825.3,663.7 L1852.3,651.3 L1879.1,639.6 L1886.6,635.8 L1891.8,632.8 L1895.8,629.9 L1905.6,622 L1908.3,620.1 L1910.8,618.6 L1913.1,617.6 L1915.3,616.9 L1924.3,615.1 L1928.1,614 L1932.6,611.9 L1937.3,608.7 L1944.6,602.7 L1961.8,586.2 L1977.3,572.5 L1993.3,557.9 L2008.6,543.5 L2036.6,516.6 L2053.3,501 L2059.6,494.6 L2065.8,487.3 L2072.6,478.7 L2080,468.5" fill="none" stroke="#ff3b3b" stroke-width="4.6" stroke-linejoin="round" stroke-linecap="butt"/>
<path d="M1327.6,726.3 L1352.6,726.2 L1371.8,725.8 L1372.6,725.4 L1374.1,722.5 L1374.8,721.5 L1381.3,720.8 L1390.6,720.1 L1401.1,719.6 L1446.8,718.4 L1458.6,717.7 L1471.6,716.5 L1491.1,714.2 L1503.6,712.4 L1522.1,709 L1547.8,703.7 L1561.6,700.4 L1571.8,697.4 L1594.1,689 L1626.6,677.7 L1648.1,669.8 L1659.1,665.5 L1667.8,661.8 L1671.3,659.8 L1680.6,653.8 L1683.3,652.4 L1685.6,651.5 L1688.3,650.9 L1690.6,650.9 L1692.3,651.3 L1696.8,653.2 L1698.8,653.6 L1701.8,653.4 L1704.8,652.5 L1708.6,650.7 L1712.3,647.9 L1716.1,644.2 L1720,639.4" fill="none" stroke="#555555" stroke-width="3.8" stroke-linejoin="round" stroke-linecap="butt"/>
<path d="M1720,639.4 C1720.7,638.9 1722.6,637.4 1723.9,636.4 C1725.3,635.4 1726.6,634.4 1727.9,633.4 C1729.2,632.4 1730.6,631.3 1731.9,630.3 C1733.2,629.3 1734.5,628.3 1735.9,627.3 C1737.2,626.3 1738.5,625.3 1739.9,624.3 C1741.2,623.3 1742.5,622.2 1743.9,621.2 C1745.2,620.2 1746.5,619.2 1747.9,618.2 C1749.2,617.1 1750.5,616.1 1751.9,615.1 C1753.2,614.1 1754.6,613.1 1755.9,612 C1757.2,611 1758.6,610 1759.9,608.9 C1761.2,607.9 1762.6,606.9 1763.9,605.8 C1765.2,604.8 1766.6,603.8 1767.9,602.7 C1769.2,601.7 1770.5,600.6 1771.9,599.6 C1773.2,598.5 1774.5,597.5 1775.8,596.4 C1777.2,595.4 1778.5,594.3 1779.8,593.2 C1781.1,592.2 1782.4,591.1 1783.7,590 C1785,589 1786.3,587.9 1787.6,586.8 C1788.9,585.8 1790.2,584.7 1791.5,583.6 C1792.8,582.5 1794.1,581.4 1795.4,580.3 C1796.7,579.2 1798,578.2 1799.3,577.1 C1800.6,576 1801.8,574.9 1803.1,573.7 C1804.4,572.6 1805.6,571.5 1806.9,570.4 C1808.1,569.3 1809.4,568.2 1810.7,567 C1811.9,565.9 1813.1,564.8 1814.4,563.6 C1815.6,562.5 1816.8,561.4 1818.1,560.2 C1819.3,559.1 1820.5,557.9 1821.7,556.8 C1822.9,555.6 1824.1,554.4 1825.3,553.3 C1826.5,552.1 1827.7,550.9 1828.9,549.7 C1830.1,548.6 1831.3,547.4 1832.4,546.2 C1833.6,545 1834.8,543.8 1835.9,542.6 C1837.1,541.4 1838.2,540.2 1839.4,539 C1840.5,537.8 1841.6,536.6 1842.7,535.3 C1843.9,534.1 1845,532.9 1846.1,531.6 C1847.2,530.4 1848.3,529.2 1849.4,527.9 C1850.5,526.7 1851.6,525.5 1852.7,524.2 C1853.8,523 1854.8,521.7 1855.9,520.4 C1857,519.2 1858,517.9 1859.1,516.7 C1860.1,515.4 1861.2,514.1 1862.2,512.9 C1863.3,511.6 1864.3,510.3 1865.3,509 C1866.4,507.8 1867.4,506.5 1868.5,505.2 C1869.5,503.9 1870.5,502.6 1871.6,501.3 C1872.6,500 1873.6,498.7 1874.7,497.4 C1875.7,496.1 1876.8,494.8 1877.8,493.5 C1878.9,492.2 1880,490.9 1881,489.6 C1882.1,488.3 1883.1,487 1884.2,485.7 C1885.3,484.4 1886.4,483.1 1887.4,481.7 C1888.5,480.4 1889.6,479.1 1890.6,477.8 C1891.7,476.5 1892.8,475.1 1893.9,473.8 C1894.9,472.5 1896,471.1 1897.1,469.8 C1898.1,468.5 1899.2,467.1 1900.2,465.8 C1901.3,464.4 1902.3,463.1 1903.4,461.7 C1904.4,460.4 1905.5,459 1906.5,457.7 C1907.5,456.3 1908.5,454.9 1909.6,453.6 C1910.6,452.2 1911.6,450.8 1912.6,449.5 C1913.5,448.1 1914.5,446.7 1915.5,445.3 C1916.5,443.9 1917.4,442.6 1918.4,441.2 C1919.3,439.8 1920.2,438.4 1921.2,437 C1922.1,435.6 1923,434.2 1923.9,432.8 C1924.8,431.4 1925.7,430 1926.6,428.6 C1927.5,427.1 1928.3,425.7 1929.2,424.3 C1930.1,422.9 1930.9,421.5 1931.8,420 C1932.7,418.6 1933.5,417.2 1934.3,415.8 C1935.2,414.3 1936,412.9 1936.8,411.5 C1937.7,410 1938.5,408.6 1939.3,407.2 C1940.1,405.7 1940.9,404.3 1941.7,402.8 C1942.6,401.4 1943.4,400 1944.2,398.5 C1945,397.1 1945.7,395.6 1946.5,394.2 C1947.3,392.7 1948.1,391.3 1948.9,389.8 C1949.7,388.3 1950.5,386.9 1951.3,385.4 C1952,384 1952.8,382.5 1953.6,381.1 C1954.4,379.6 1955.2,378.2 1955.9,376.7 C1956.7,375.2 1957.5,373.8 1958.3,372.3 C1959,370.9 1959.8,369.4 1960.6,367.9 C1961.4,366.5 1962.2,365 1962.9,363.5 C1963.7,362.1 1964.5,360.6 1965.3,359.2 C1966.1,357.7 1966.9,356.2 1967.7,354.8 C1968.5,353.3 1969.3,351.8 1970.1,350.4 C1970.9,348.9 1971.7,347.5 1972.5,346 C1973.3,344.5 1974.1,343.1 1975,341.6 C1975.8,340.2 1976.6,338.7 1977.5,337.3 C1978.3,335.8 1979.1,334.3 1980,332.9 C1980.8,331.4 1981.7,330 1982.6,328.5 C1983.5,327.1 1984.3,325.6 1985.2,324.2 C1986.1,322.7 1987,321.3 1987.9,319.8 C1988.8,318.4 1989.7,316.9 1990.6,315.5 C1991.5,314.1 1992.4,312.6 1993.4,311.2 C1994.3,309.7 1995.2,308.3 1996.1,306.8 C1997,305.4 1997.9,303.9 1998.9,302.5 C1999.8,301 2000.7,299.6 2001.6,298.1 C2002.5,296.7 2003.4,295.2 2004.3,293.8 C2005.2,292.3 2006.1,290.8 2007,289.4 C2007.8,287.9 2008.7,286.5 2009.6,285 C2010.4,283.5 2011.3,282 2012.1,280.6 C2013,279.1 2013.8,277.6 2014.6,276.1 C2015.4,274.7 2016.2,273.2 2017,271.7 C2017.8,270.2 2018.6,268.7 2019.4,267.2 C2020.1,265.7 2020.9,264.2 2021.7,262.7 C2022.4,261.2 2023.1,259.7 2023.9,258.2 C2024.6,256.7 2025.3,255.2 2026,253.7 C2026.7,252.1 2027.4,250.6 2028.1,249.1 C2028.8,247.6 2029.4,246.1 2030.1,244.5 C2030.8,243 2031.4,241.5 2032.1,240 C2032.8,238.4 2033.4,236.9 2034,235.4 C2034.7,233.8 2035.3,232.3 2035.9,230.7 C2036.6,229.2 2037.2,227.7 2037.8,226.1 C2038.4,224.6 2039,223 2039.6,221.5 C2040.2,219.9 2040.8,218.4 2041.4,216.9 C2042,215.3 2042.6,213.8 2043.2,212.2 C2043.8,210.7 2044.3,209.1 2044.9,207.6 C2045.5,206 2046.1,204.4 2046.6,202.9 C2047.2,201.3 2047.8,199.8 2048.4,198.2 C2048.9,196.7 2049.5,195.1 2050.1,193.6 C2050.6,192 2051.2,190.4 2051.8,188.9 C2052.3,187.3 2052.9,185.8 2053.5,184.2 C2054,182.7 2054.6,181.1 2055.2,179.6 C2055.7,178 2056.3,176.4 2056.9,174.9 C2057.4,173.3 2058,171.8 2058.6,170.2 C2059.2,168.7 2059.8,167.1 2060.4,165.6 C2061,164 2061.6,162.5 2062.2,160.9 C2062.8,159.4 2063.5,157.8 2064.1,156.3 C2064.7,154.7 2065.4,153.2 2066,151.6 C2066.7,150.1 2067.4,148.5 2068,147 C2068.7,145.4 2069.4,143.9 2070.1,142.4 C2070.8,140.8 2071.6,139.3 2072.3,137.8 C2073.1,136.2 2073.8,134.7 2074.6,133.2 C2075.4,131.6 2076.2,130.1 2077,128.6 C2077.8,127 2079.1,124.8 2079.5,124" fill="none" stroke="#555555" stroke-width="3.8" stroke-linejoin="round" stroke-linecap="butt"/>
<path d="M1327.4,726.3 L1516.9,726.1 L1710.2,725.4 L1761.2,724.9 L1910.9,722.7 L1956.7,721.8 L1982.7,721 L2036.4,718 L2080,715" fill="none" stroke="#d480f2" stroke-width="4.6" stroke-linejoin="round" stroke-linecap="butt"/>
<path d="M238.5,991.5 C238.6,992.3 238.9,994.8 239.2,996.4 C239.4,998 239.6,999.7 239.8,1001.3 C240,1002.9 240.2,1004.6 240.5,1006.2 C240.7,1007.8 240.9,1009.5 241.1,1011.1 C241.3,1012.8 241.5,1014.4 241.7,1016 C241.9,1017.7 242.2,1019.3 242.4,1021 C242.6,1022.6 242.8,1024.2 243,1025.9 C243.2,1027.5 243.4,1029.2 243.6,1030.8 C243.8,1032.4 244.1,1034.1 244.3,1035.7 C244.5,1037.4 244.7,1039 244.9,1040.7 C245.1,1042.3 245.3,1044 245.5,1045.6 C245.7,1047.3 245.9,1048.9 246.2,1050.5 C246.4,1052.2 246.6,1053.8 246.8,1055.5 C247,1057.1 247.2,1058.8 247.4,1060.4 C247.6,1062.1 247.8,1063.7 248.1,1065.4 C248.3,1067 248.5,1068.7 248.7,1070.3 C248.9,1072 249.1,1073.6 249.3,1075.3 C249.5,1076.9 249.7,1078.6 250,1080.3 C250.2,1081.9 250.4,1083.6 250.6,1085.2 C250.8,1086.9 251,1088.5 251.3,1090.2 C251.5,1091.8 251.7,1093.5 251.9,1095.1 C252.1,1096.8 252.3,1098.5 252.6,1100.1 C252.8,1101.8 253,1103.4 253.2,1105.1 C253.4,1106.7 253.7,1108.4 253.9,1110 C254.1,1111.7 254.3,1113.4 254.6,1115 C254.8,1116.7 255,1118.3 255.2,1120 C255.5,1121.6 255.7,1123.3 255.9,1125 C256.2,1126.6 256.4,1128.3 256.6,1129.9 C256.9,1131.6 257.1,1133.3 257.3,1134.9 C257.6,1136.6 257.8,1138.2 258,1139.9 C258.3,1141.5 258.5,1143.2 258.7,1144.9 C259,1146.5 259.2,1148.2 259.5,1149.8 C259.7,1151.5 260,1153.2 260.2,1154.8 C260.5,1156.5 260.7,1158.1 261,1159.8 C261.2,1161.4 261.5,1163.1 261.7,1164.8 C262,1166.4 262.2,1168.1 262.5,1169.7 C262.7,1171.4 263,1173.1 263.3,1174.7 C263.5,1176.4 263.8,1178 264.1,1179.7 C264.3,1181.4 264.6,1183 264.9,1184.7 C265.1,1186.3 265.4,1188 265.7,1189.6 C266,1191.3 266.2,1193 266.5,1194.6 C266.8,1196.3 267.1,1197.9 267.4,1199.6 C267.7,1201.2 267.9,1202.9 268.2,1204.6 C268.5,1206.2 268.8,1207.9 269.1,1209.5 C269.4,1211.2 269.7,1212.8 270,1214.5 C270.3,1216.2 270.6,1217.8 270.9,1219.5 C271.2,1221.1 271.5,1222.8 271.8,1224.4 C272.1,1226.1 272.4,1227.7 272.8,1229.4 C273.1,1231 273.4,1232.7 273.7,1234.3 C274,1236 274.4,1237.7 274.7,1239.3 C275,1241 275.3,1242.6 275.6,1244.3 C276,1245.9 276.3,1247.6 276.6,1249.2 C277,1250.9 277.3,1252.5 277.6,1254.2 C278,1255.8 278.3,1257.5 278.6,1259.1 C279,1260.8 279.3,1262.4 279.7,1264.1 C280,1265.7 280.4,1267.3 280.7,1269 C281,1270.6 281.4,1272.3 281.7,1273.9 C282.1,1275.6 282.4,1277.2 282.8,1278.9 C283.1,1280.5 283.5,1282.2 283.8,1283.8 C284.2,1285.4 284.5,1287.1 284.9,1288.7 C285.3,1290.4 285.6,1292 286,1293.6 C286.3,1295.3 286.7,1296.9 287.1,1298.6 C287.4,1300.2 287.8,1301.8 288.1,1303.5 C288.5,1305.1 288.9,1306.7 289.2,1308.4 C289.6,1310 289.9,1311.7 290.3,1313.3 C290.7,1314.9 291,1316.6 291.4,1318.2 C291.8,1319.8 292.1,1321.5 292.5,1323.1 C292.9,1324.7 293.2,1326.3 293.6,1328 C294,1329.6 294.3,1331.2 294.7,1332.9 C295.1,1334.5 295.4,1336.1 295.8,1337.7 C296.2,1339.4 296.5,1341 296.9,1342.6 C297.3,1344.2 297.6,1345.9 298,1347.5 C298.4,1349.1 298.8,1350.7 299.1,1352.4 C299.5,1354 299.9,1355.6 300.2,1357.2 C300.6,1358.8 301,1360.4 301.3,1362.1 C301.7,1363.7 302.1,1365.3 302.4,1366.9 C302.8,1368.5 303.2,1370.1 303.5,1371.8 C303.9,1373.4 304.3,1375 304.7,1376.6 C305,1378.2 305.4,1379.8 305.8,1381.4 C306.2,1383 306.5,1384.6 306.9,1386.2 C307.3,1387.8 307.7,1389.4 308.1,1391 C308.5,1392.6 308.9,1394.3 309.2,1395.9 C309.6,1397.5 310,1399.1 310.4,1400.7 C310.8,1402.2 311.2,1403.8 311.6,1405.4 C312,1407 312.4,1408.6 312.8,1410.2 C313.2,1411.8 313.7,1413.4 314.1,1415 C314.5,1416.6 314.9,1418.2 315.3,1419.8 C315.8,1421.4 316.2,1422.9 316.6,1424.5 C317.1,1426.1 317.5,1427.7 317.9,1429.3 C318.4,1430.9 318.8,1432.5 319.3,1434 C319.7,1435.6 320.2,1437.2 320.7,1438.8 C321.1,1440.3 321.6,1441.9 322.1,1443.5 C322.6,1445.1 323,1446.6 323.5,1448.2 C324,1449.8 324.5,1451.4 325,1452.9 C325.5,1454.5 326,1456.1 326.5,1457.6 C327,1459.2 327.6,1460.8 328.1,1462.3 C328.6,1463.9 329.2,1465.4 329.7,1467 C330.2,1468.6 330.8,1470.1 331.4,1471.7 C331.9,1473.2 332.5,1474.8 333.1,1476.3 C333.6,1477.9 334.2,1479.4 334.8,1481 C335.4,1482.5 336,1484.1 336.6,1485.6 C337.2,1487.2 337.8,1488.7 338.4,1490.3 C339.1,1491.8 339.7,1493.4 340.3,1494.9 C341,1496.4 341.6,1498 342.3,1499.5 C343,1501.1 343.6,1502.6 344.3,1504.1 C345,1505.7 345.7,1507.2 346.4,1508.7 C347.1,1510.2 347.8,1511.8 348.5,1513.3 C349.3,1514.8 350,1516.4 350.7,1517.9 C351.5,1519.4 352.2,1520.9 353,1522.4 C353.8,1523.9 354.5,1525.5 355.3,1527 C356.1,1528.5 356.9,1530 357.7,1531.5 C358.4,1533 359.2,1534.5 360,1536 C360.8,1537.5 361.6,1539 362.4,1540.5 C363.2,1542 364,1543.4 364.8,1544.9 C365.7,1546.4 366.5,1547.9 367.3,1549.3 C368.1,1550.8 369,1552.2 369.8,1553.7 C370.6,1555.2 371.5,1556.6 372.4,1558 C373.2,1559.5 374.1,1560.9 375,1562.3 C375.8,1563.8 376.7,1565.2 377.6,1566.6 C378.5,1568 379.4,1569.4 380.4,1570.8 C381.3,1572.2 382.2,1573.6 383.2,1574.9 C384.1,1576.3 385.1,1577.7 386.1,1579 C387,1580.4 388,1581.7 389,1583 C390.1,1584.3 391.1,1585.7 392.1,1586.9 C393.2,1588.2 394.2,1589.5 395.3,1590.8 C396.4,1592 397.4,1593.3 398.6,1594.5 C399.7,1595.7 400.8,1596.9 401.9,1598.1 C403.1,1599.3 404.3,1600.4 405.4,1601.6 C406.6,1602.7 407.8,1603.8 409.1,1604.9 C410.3,1606 411.5,1607.1 412.8,1608.1 C414.1,1609.2 415.4,1610.2 416.7,1611.2 C418,1612.2 419.3,1613.1 420.7,1614.1 C422.1,1615 423.5,1615.9 424.9,1616.7 C426.3,1617.5 427.7,1618.3 429.2,1618.8 C430.6,1619.4 432.1,1619.8 433.6,1620.1 C435.1,1620.3 436.6,1620.2 438.1,1620.1 C439.7,1620 441.2,1619.4 442.8,1619.4 C444.3,1619.4 445.9,1619.6 447.5,1620 C449.1,1620.3 450.7,1620.9 452.3,1621.3 C453.9,1621.8 455.5,1622.3 457.1,1622.7 C458.8,1623.2 460.4,1623.7 462.1,1624.1 C463.7,1624.6 465.4,1625 467,1625.5 C468.7,1625.9 470.4,1626.3 472,1626.7 C473.7,1627.2 475.4,1627.6 477,1628 C478.7,1628.3 480.4,1628.7 482.1,1629.1 C483.7,1629.4 485.4,1629.8 487.1,1630.1 C488.8,1630.5 490.5,1630.8 492.1,1631.1 C493.8,1631.3 495.5,1631.6 497.1,1631.9 C498.8,1632.1 500.4,1632.3 502.1,1632.6 C503.7,1632.8 505.4,1632.9 507,1633.1 C508.6,1633.2 510.3,1633.4 511.9,1633.5 C513.5,1633.6 515.1,1633.6 516.7,1633.7 C518.3,1633.7 520.6,1633.7 521.4,1633.7" fill="none" stroke="#000" stroke-width="5" stroke-linejoin="round" stroke-linecap="butt"/>
<path d="M521.4,1633.7 L560,1634.4 L690.3,1634.4 L691.4,1637 L994.5,1636.8" fill="none" stroke="#000" stroke-width="5" stroke-linejoin="round" stroke-linecap="butt"/>
<path d="M1327.4,1022.4 C1327.5,1023.2 1327.9,1025.6 1328.2,1027.3 C1328.5,1028.9 1328.8,1030.5 1329.1,1032.1 C1329.4,1033.8 1329.6,1035.4 1329.9,1037 C1330.2,1038.6 1330.5,1040.3 1330.8,1041.9 C1331.1,1043.5 1331.4,1045.1 1331.8,1046.8 C1332.1,1048.4 1332.4,1050 1332.7,1051.6 C1333,1053.3 1333.3,1054.9 1333.7,1056.5 C1334,1058.1 1334.3,1059.8 1334.7,1061.4 C1335,1063 1335.3,1064.7 1335.7,1066.3 C1336,1067.9 1336.3,1069.5 1336.7,1071.2 C1337,1072.8 1337.4,1074.4 1337.8,1076.1 C1338.1,1077.7 1338.5,1079.3 1338.8,1081 C1339.2,1082.6 1339.6,1084.2 1339.9,1085.9 C1340.3,1087.5 1340.7,1089.1 1341,1090.7 C1341.4,1092.4 1341.8,1094 1342.2,1095.6 C1342.6,1097.3 1342.9,1098.9 1343.3,1100.5 C1343.7,1102.2 1344.1,1103.8 1344.5,1105.4 C1344.9,1107.1 1345.3,1108.7 1345.7,1110.3 C1346.1,1112 1346.5,1113.6 1346.9,1115.2 C1347.3,1116.9 1347.7,1118.5 1348.2,1120.1 C1348.6,1121.7 1349,1123.4 1349.4,1125 C1349.8,1126.6 1350.3,1128.3 1350.7,1129.9 C1351.1,1131.5 1351.5,1133.2 1352,1134.8 C1352.4,1136.4 1352.8,1138.1 1353.3,1139.7 C1353.7,1141.3 1354.2,1142.9 1354.6,1144.6 C1355.1,1146.2 1355.5,1147.8 1356,1149.5 C1356.4,1151.1 1356.9,1152.7 1357.3,1154.3 C1357.8,1156 1358.2,1157.6 1358.7,1159.2 C1359.1,1160.8 1359.6,1162.5 1360.1,1164.1 C1360.5,1165.7 1361,1167.3 1361.5,1169 C1362,1170.6 1362.4,1172.2 1362.9,1173.8 C1363.4,1175.5 1363.9,1177.1 1364.3,1178.7 C1364.8,1180.3 1365.3,1182 1365.8,1183.6 C1366.3,1185.2 1366.8,1186.8 1367.3,1188.4 C1367.8,1190.1 1368.3,1191.7 1368.8,1193.3 C1369.2,1194.9 1369.7,1196.5 1370.2,1198.1 C1370.7,1199.8 1371.3,1201.4 1371.8,1203 C1372.3,1204.6 1372.8,1206.2 1373.3,1207.8 C1373.8,1209.4 1374.3,1211.1 1374.8,1212.7 C1375.3,1214.3 1375.8,1215.9 1376.4,1217.5 C1376.9,1219.1 1377.4,1220.7 1377.9,1222.3 C1378.5,1223.9 1379,1225.5 1379.5,1227.1 C1380,1228.7 1380.6,1230.4 1381.1,1232 C1381.6,1233.6 1382.2,1235.2 1382.7,1236.8 C1383.2,1238.4 1383.8,1240 1384.3,1241.6 C1384.8,1243.2 1385.4,1244.8 1385.9,1246.4 C1386.5,1248 1387,1249.6 1387.5,1251.1 C1388.1,1252.7 1388.6,1254.3 1389.2,1255.9 C1389.7,1257.5 1390.3,1259.1 1390.8,1260.7 C1391.4,1262.3 1392,1263.9 1392.5,1265.5 C1393.1,1267 1393.6,1268.6 1394.2,1270.2 C1394.7,1271.8 1395.3,1273.4 1395.9,1275 C1396.4,1276.5 1397,1278.1 1397.6,1279.7 C1398.2,1281.3 1398.7,1282.9 1399.3,1284.4 C1399.9,1286 1400.5,1287.6 1401,1289.2 C1401.6,1290.7 1402.2,1292.3 1402.8,1293.9 C1403.4,1295.4 1404,1297 1404.6,1298.6 C1405.2,1300.1 1405.8,1301.7 1406.4,1303.3 C1407,1304.8 1407.6,1306.4 1408.2,1307.9 C1408.8,1309.5 1409.4,1311.1 1410,1312.6 C1410.6,1314.2 1411.2,1315.7 1411.8,1317.3 C1412.5,1318.8 1413.1,1320.4 1413.7,1321.9 C1414.3,1323.5 1415,1325 1415.6,1326.6 C1416.2,1328.1 1416.9,1329.6 1417.5,1331.2 C1418.1,1332.7 1418.8,1334.3 1419.4,1335.8 C1420.1,1337.3 1420.7,1338.9 1421.4,1340.4 C1422,1341.9 1422.7,1343.5 1423.4,1345 C1424,1346.5 1424.7,1348.1 1425.4,1349.6 C1426,1351.1 1426.7,1352.6 1427.4,1354.1 C1428.1,1355.7 1428.8,1357.2 1429.4,1358.7 C1430.1,1360.2 1430.8,1361.7 1431.5,1363.2 C1432.2,1364.8 1432.9,1366.3 1433.6,1367.8 C1434.3,1369.3 1435,1370.8 1435.8,1372.3 C1436.5,1373.8 1437.2,1375.3 1437.9,1376.8 C1438.7,1378.3 1439.4,1379.8 1440.1,1381.3 C1440.9,1382.8 1441.6,1384.3 1442.3,1385.8 C1443.1,1387.2 1443.8,1388.7 1444.6,1390.2 C1445.4,1391.7 1446.1,1393.2 1446.9,1394.7 C1447.6,1396.1 1448.4,1397.6 1449.2,1399.1 C1450,1400.6 1450.8,1402 1451.5,1403.5 C1452.3,1405 1453.1,1406.4 1453.9,1407.9 C1454.7,1409.4 1455.5,1410.8 1456.3,1412.3 C1457.2,1413.7 1458,1415.2 1458.8,1416.6 C1459.6,1418.1 1460.5,1419.6 1461.3,1421 C1462.1,1422.4 1463,1423.9 1463.8,1425.3 C1464.7,1426.8 1465.5,1428.2 1466.4,1429.7 C1467.2,1431.1 1468.1,1432.5 1469,1434 C1469.8,1435.4 1470.7,1436.8 1471.6,1438.2 C1472.5,1439.7 1473.4,1441.1 1474.3,1442.5 C1475.2,1443.9 1476.1,1445.3 1477,1446.8 C1477.9,1448.2 1478.8,1449.6 1479.7,1451 C1480.7,1452.4 1481.6,1453.8 1482.5,1455.2 C1483.5,1456.6 1484.4,1458 1485.4,1459.4 C1486.3,1460.8 1487.3,1462.1 1488.2,1463.5 C1489.2,1464.9 1490.2,1466.3 1491.2,1467.7 C1492.1,1469 1493.1,1470.4 1494.1,1471.8 C1495.1,1473.1 1496.1,1474.5 1497.1,1475.8 C1498.1,1477.2 1499.1,1478.5 1500.2,1479.9 C1501.2,1481.2 1502.2,1482.5 1503.2,1483.9 C1504.3,1485.2 1505.3,1486.5 1506.4,1487.8 C1507.4,1489.1 1508.5,1490.4 1509.5,1491.7 C1510.6,1493 1511.7,1494.3 1512.8,1495.6 C1513.8,1496.9 1514.9,1498.2 1516,1499.4 C1517.1,1500.7 1518.2,1502 1519.3,1503.2 C1520.4,1504.5 1521.5,1505.7 1522.7,1507 C1523.8,1508.2 1524.9,1509.5 1526.1,1510.7 C1527.2,1511.9 1528.4,1513.1 1529.5,1514.3 C1530.7,1515.5 1531.8,1516.7 1533,1517.9 C1534.2,1519.1 1535.4,1520.3 1536.5,1521.5 C1537.7,1522.6 1538.9,1523.8 1540.1,1524.9 C1541.3,1526.1 1542.5,1527.2 1543.8,1528.4 C1545,1529.5 1546.2,1530.6 1547.4,1531.7 C1548.7,1532.8 1549.9,1533.9 1551.2,1535 C1552.4,1536.1 1553.7,1537.2 1554.9,1538.3 C1556.2,1539.3 1557.5,1540.4 1558.8,1541.4 C1560,1542.5 1561.3,1543.5 1562.6,1544.5 C1563.9,1545.6 1565.2,1546.6 1566.6,1547.6 C1567.9,1548.6 1569.2,1549.6 1570.5,1550.5 C1571.9,1551.5 1573.2,1552.5 1574.6,1553.4 C1575.9,1554.4 1577.3,1555.3 1578.6,1556.3 C1580,1557.2 1581.4,1558.1 1582.7,1559 C1584.1,1559.9 1585.5,1560.8 1586.9,1561.7 C1588.3,1562.6 1589.7,1563.4 1591.1,1564.3 C1592.5,1565.1 1593.9,1566 1595.4,1566.8 C1596.8,1567.6 1598.2,1568.5 1599.7,1569.3 C1601.1,1570.1 1602.6,1570.9 1604,1571.6 C1605.5,1572.4 1606.9,1573.2 1608.4,1573.9 C1609.9,1574.7 1611.4,1575.4 1612.9,1576.2 C1614.3,1576.9 1615.8,1577.6 1617.3,1578.3 C1618.8,1579 1620.4,1579.7 1621.9,1580.3 C1623.4,1581 1624.9,1581.7 1626.4,1582.3 C1628,1583 1629.5,1583.6 1631.1,1584.2 C1632.6,1584.8 1634.2,1585.4 1635.7,1586 C1637.3,1586.6 1638.8,1587.2 1640.4,1587.7 C1642,1588.3 1643.6,1588.8 1645.2,1589.3 C1646.7,1589.9 1648.3,1590.4 1649.9,1590.9 C1651.5,1591.4 1653.2,1591.9 1654.8,1592.3 C1656.4,1592.8 1658,1593.3 1659.6,1593.7 C1661.3,1594.1 1662.9,1594.6 1664.5,1595 C1666.2,1595.4 1667.8,1595.8 1669.5,1596.2 C1671.2,1596.5 1672.8,1596.9 1674.5,1597.3 C1676.2,1597.6 1677.8,1597.9 1679.5,1598.3 C1681.2,1598.6 1682.9,1598.9 1684.6,1599.2 C1686.3,1599.4 1688,1599.7 1689.7,1600 C1691.4,1600.2 1693.1,1600.5 1694.8,1600.7 C1696.5,1600.9 1699.1,1601.2 1700,1601.3" fill="none" stroke="#000" stroke-width="4.7" stroke-linejoin="round" stroke-linecap="butt"/>
<path d="M1700,1601.3 L1724.4,1603.2 L1762.3,1607.5 L1800,1610.4 L1818,1611.5 L1818.5,1613.8 L1889.6,1613.8 L1890.3,1616.3 L2084.5,1616.3" fill="none" stroke="#000" stroke-width="4.7" stroke-linejoin="round" stroke-linecap="butt"/>
</svg></div></body></html>
